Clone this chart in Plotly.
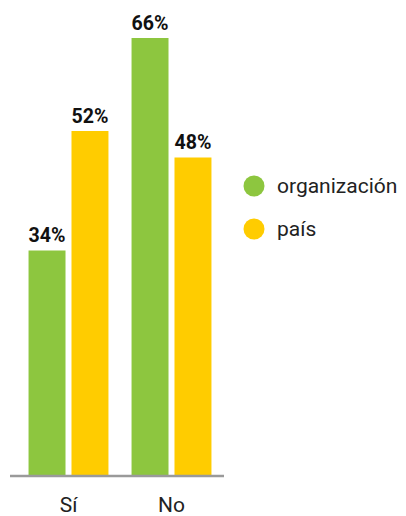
import plotly.graph_objects as go

categories = ["Sí", "No"]
series_names = ["organización", "país"]
organizacion = [34, 66]
pais = [52, 48]
colors = ["#8DC63F", "#FFCC00"]

# page body has an 8px default margin; compensate so screen positions match
OFF = 8
W, H = 406, 516
L, T = 17 - OFF, 20 - OFF
pw, ph = 206, 456
R, B = W - L - pw, H - T - ph
x_idx = list(range(len(categories)))

fig = go.Figure()
for vals, name, col, off in [(organizacion, series_names[0], colors[0], -0.388),
                             (pais, series_names[1], colors[1], 0.029)]:
    fig.add_trace(go.Bar(
        x=x_idx, y=vals, name=name, marker_color=col, marker_line_width=0,
        width=0.359, offset=off, showlegend=False,
        text=[f"{v}%" for v in vals], textposition="outside",
        textfont=dict(family="Roboto", size=23, color="#111111", weight=700),
        cliponaxis=False,
    ))

def px2paper_x(px):
    return (px - OFF - L) / pw

def px2paper_y(py):
    return (T + ph - (py - OFF)) / ph

# baseline (extends slightly beyond the bars on both sides)
fig.add_shape(type="line", xref="paper", yref="paper",
              x0=px2paper_x(10), x1=px2paper_x(224), y0=0, y1=0,
              line=dict(color="#9a9a9a", width=2.5), layer="above")

for i, (name, col) in enumerate(zip(series_names, colors)):
    cy = 186 + i * 43
    fig.add_shape(type="circle", xref="paper", yref="paper",
                  xsizemode="pixel", ysizemode="pixel",
                  xanchor=px2paper_x(254), yanchor=px2paper_y(cy),
                  x0=-10.5, x1=10.5, y0=-10.5, y1=10.5,
                  fillcolor=col, line_width=0)
    fig.add_annotation(xref="paper", yref="paper", x=px2paper_x(275), y=px2paper_y(cy),
                       text=name, showarrow=False, xanchor="left", yanchor="middle",
                       font=dict(family="Roboto", size=21, color="#222222"))

fig.update_layout(
    width=W, height=H, margin=dict(l=L, r=R, t=T, b=B, pad=0),
    plot_bgcolor="white", paper_bgcolor="white",
    barmode="overlay",
    xaxis=dict(range=[-0.5, 1.5], tickmode="array", tickvals=x_idx, ticktext=categories,
               showgrid=False, zeroline=False, showline=False, ticks="",
               automargin=False,
               tickfont=dict(family="Roboto", size=21, color="#222222"),
               ticklabelstandoff=14),
    yaxis=dict(range=[0, ph / 6.636], visible=False, showgrid=False, automargin=False),
    showlegend=False,
)

fig.write_html("out.html")
